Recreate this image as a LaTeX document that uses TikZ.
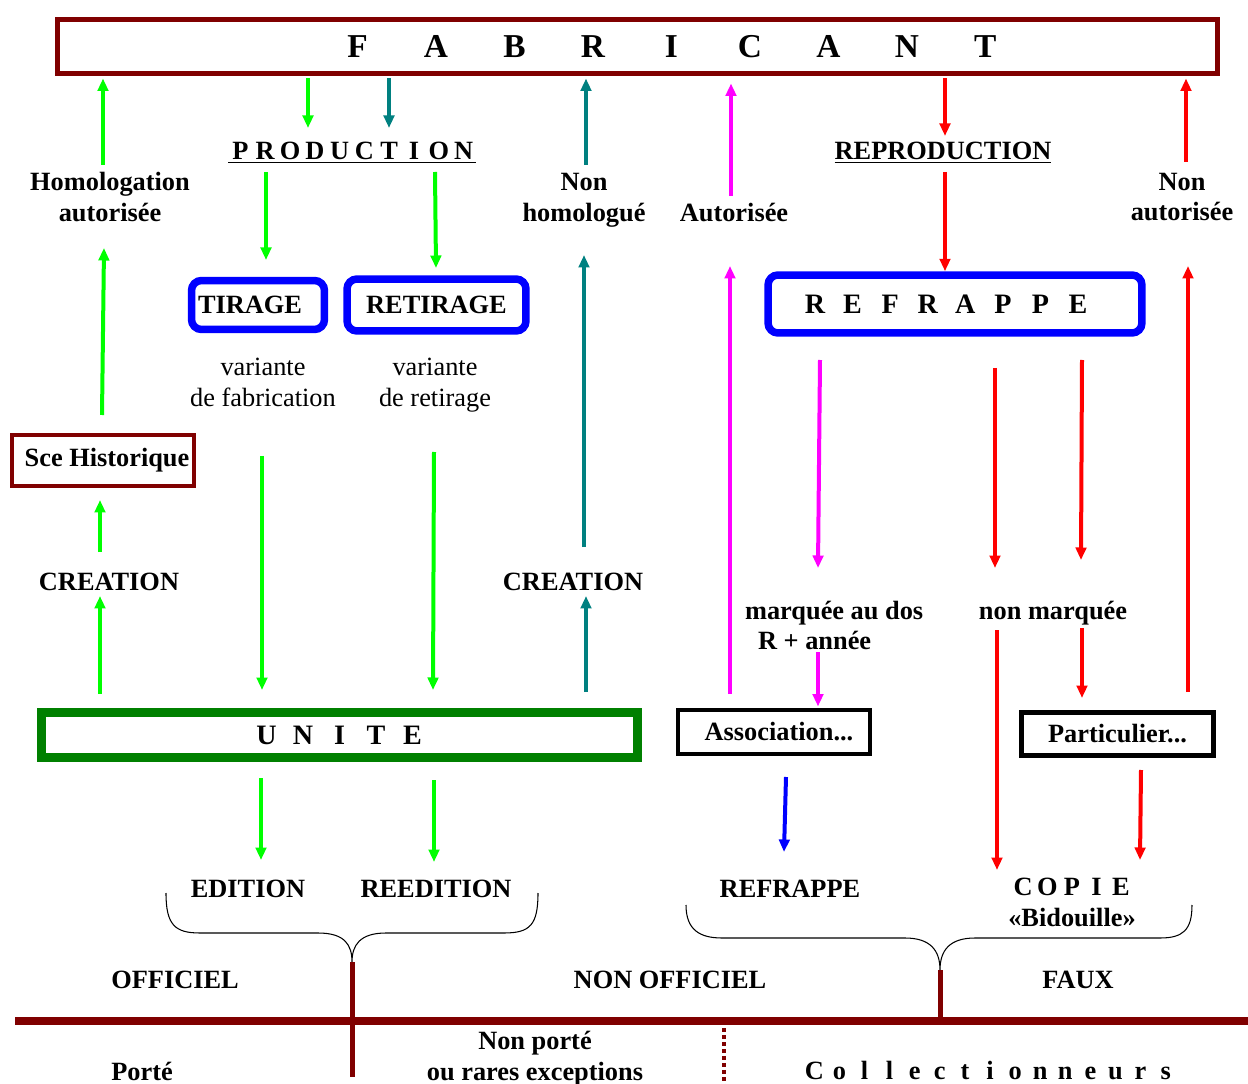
\documentclass[tikz,border=0pt]{standalone}
\usepackage{fontspec}
\setmainfont{Liberation Serif}
\usetikzlibrary{arrows.meta,positioning}
\definecolor{fdred}{HTML}{800000}
\definecolor{fgreen}{HTML}{00FF00}
\definecolor{fdgreen}{HTML}{008000}
\definecolor{fteal}{HTML}{008080}
\definecolor{fmag}{HTML}{FF00FF}
\definecolor{fred}{HTML}{FF0000}
\definecolor{fblue}{HTML}{0000FF}
\newcommand{\spread}[2]{\foreach \lettr in {#2}{\makebox[#1]{\lettr}}}

\begin{document}
\begin{tikzpicture}[x=0.02cm, y=-0.02cm,
    every node/.style={inner sep=1pt, align=center},
    lbl/.style={font=\bfseries\fontsize{15}{17.6}\selectfont},
    txt/.style={font=\fontsize{15}{17.6}\selectfont},
    big/.style={font=\bfseries\fontsize{16}{19}\selectfont},
    bluebox/.style={draw=fblue, line width=1.5mm, rounded corners=0.2cm},
    arr/.style={line width=0.8mm, -{Triangle[length=2.5mm, width=2.1mm]}},
    garr/.style={arr, fgreen},
    tarr/.style={arr, fteal},
    marr/.style={arr, fmag},
    rarr/.style={arr, fred},
    barr/.style={arr, fblue}]
  \useasboundingbox (0,0) rectangle (1248,1084);

  % boxes
  \node[draw=fdred, line width=1mm, minimum width=23.2cm, minimum height=1.08cm,
        font=\bfseries\fontsize{19}{22}\selectfont] (fab) at (637.5,46.5)
        {\hspace{1.36cm}\spread{1.57cm}{F,A,B,R,I,C,A,N,T}};
  \node[draw=fdred, line width=0.8mm, minimum width=3.64cm, minimum height=1.02cm,
        lbl] (sce) at (103,460.5) {\hspace{0.16cm}Sce Historique};
  \node[draw=fdgreen, line width=1.8mm, minimum width=11.92cm, minimum height=0.9cm,
        big] (unite) at (339.5,735) {\spread{0.73cm}{U,N,I,T,E}};
  \node[bluebox, minimum width=2.66cm, minimum height=0.98cm, lbl] (tir)
        at (258,305) {TIRAGE\hspace{0.32cm}};
  \node[bluebox, minimum width=3.58cm, minimum height=1.04cm, lbl] (retir)
        at (436.5,305) {RETIRAGE};
  \node[bluebox, minimum width=7.48cm, minimum height=1.16cm, big] (refr)
        at (955,304) {\spread{0.752cm}{R,E,F,R,A,P,P,E}\hspace{0.34cm}};
  \node[draw, line width=0.8mm, minimum width=3.84cm, minimum height=0.88cm, lbl]
        (assoc) at (774,732) {\hspace{0.2cm}Association...};
  \node[draw, line width=1mm, minimum width=3.84cm, minimum height=0.86cm, lbl]
        (part) at (1117.5,734) {Particulier...};

  % labels
  \node[lbl] (homol) at (110,197) {Homologation\\autorisée};
  \node[lbl] (creaA) at (109,581.5) {CREATION};
  \node[lbl] (prod) at (352,153) {\underline{\spread{0.496cm}{P,R,O,D,U,C,T,I,O,N}}};
  \node[lbl] (reprod) at (943,153) {\underline{REPRODUCTION}};
  \node[txt] (varA) at (263,382) {variante\\de fabrication};
  \node[txt] (varB) at (435,385) {variante\\de retirage};
  \node[lbl] (nonhom) at (584,200.5) {Non\\homologué};
  \node[lbl] (creaB) at (573,581.5) {CREATION};
  \node[lbl] (autor) at (734,213) {Autorisée};
  \node[lbl] (nonaut) at (1182,197) {Non\\autorisée};
  \node[lbl, align=left, anchor=west] (marq) at (743,625.5)
        {marquée au dos\\\hspace{0.26cm}R + année};
  \node[lbl] (nonmarq) at (1053,613) {non marquée};
  \node[lbl] (edit) at (248,888.5) {EDITION};
  \node[lbl] (reedit) at (436,888.5) {REEDITION};
  \node[lbl] (refrp) at (790,888.5) {REFRAPPE};
  \node[lbl] (copie) at (1072,902)
        {\spread{0.49cm}{C,O,P,I,E}\\«Bidouille»};
  \node[lbl] (offic) at (175,979.5) {OFFICIEL};
  \node[lbl] (nonoff) at (670,979.5) {NON OFFICIEL};
  \node[lbl] (faux) at (1078,979.5) {FAUX};
  \node[lbl] (porte) at (142,1071) {Porté};
  \node[lbl] (nonporte) at (535,1059) {Non porté\\ou rares exceptions};
  \node[lbl] (coll) at (990,1071)
        {\spread{0.502cm}{C,o,l,l,e,c,t,i,o,n,n,e,u,r,s}};

  % arrows to and from the maker
  \coordinate (homup) at (103,165);
  \coordinate (prodg) at (308,128);
  \coordinate (prodt) at (389,128);
  \coordinate (nhup) at (586,165);
  \coordinate (autup) at (731,196);
  \coordinate (repdn) at (945,136);
  \coordinate (naup) at (1186,162);
  \draw[garr, shorten >=0.5mm] (homup) -- (homup |- fab.south);
  \draw[garr, shorten <=0.5mm] (prodg |- fab.south) -- (prodg);
  \draw[tarr, shorten <=0.5mm] (prodt |- fab.south) -- (prodt);
  \draw[tarr, shorten >=0.5mm] (nhup) -- (nhup |- fab.south);
  \draw[marr, shorten >=1.5mm] (autup) -- (autup |- fab.south);
  \draw[rarr, shorten <=0.5mm] (repdn |- fab.south) -- (repdn);
  \draw[rarr, shorten >=0.5mm] (naup) -- (naup |- fab.south);

  % left column
  \coordinate (hs1) at (102,415); \coordinate (hs2) at (104,248);
  \coordinate (cs1) at (100,552); \coordinate (cs2) at (100,500);
  \coordinate (uc1) at (100,694); \coordinate (uc2) at (100,596);
  \draw[garr] (hs1) -- (hs2);
  \draw[garr] (cs1) -- (cs2);
  \draw[garr] (uc1) -- (uc2);

  % production
  \coordinate (pt1) at (266,172); \coordinate (pt2) at (266,260);
  \coordinate (pr1) at (435,172); \coordinate (pr2) at (436,268);
  \coordinate (vt1) at (262,456); \coordinate (vt2) at (262,690);
  \coordinate (vr1) at (434,452); \coordinate (vr2) at (433,690);
  \coordinate (ue1) at (261,778); \coordinate (ue2) at (261,860);
  \coordinate (ur1) at (434,780); \coordinate (ur2) at (434,862);
  \draw[garr] (pt1) -- (pt2);
  \draw[garr] (pr1) -- (pr2);
  \draw[garr] (vt1) -- (vt2);
  \draw[garr] (vr1) -- (vr2);
  \draw[garr] (ue1) -- (ue2);
  \draw[garr] (ur1) -- (ur2);

  % non homologue
  \coordinate (nh1) at (584,547); \coordinate (nh2) at (584,255);
  \coordinate (uc3) at (586,692); \coordinate (uc4) at (586,596);
  \draw[tarr] (nh1) -- (nh2);
  \draw[tarr] (uc3) -- (uc4);

  % reproduction
  \coordinate (au1) at (730,694); \coordinate (au2) at (730,266);
  \coordinate (rp1) at (945,172);
  \coordinate (mq1) at (820,360); \coordinate (mq2) at (818,568);
  \coordinate (mq3) at (818,652);
  \coordinate (nm1) at (995,368); \coordinate (nm2) at (995,568);
  \coordinate (nm3) at (1082,360); \coordinate (nm4) at (1081,560);
  \coordinate (nm5) at (1082,628); \coordinate (nm6) at (1082,698);
  \coordinate (cp1) at (997,630); \coordinate (cp2) at (997,870);
  \coordinate (pa1) at (1141,770); \coordinate (pa2) at (1140,860);
  \coordinate (na1) at (1188,692); \coordinate (na2) at (1188,266);
  \coordinate (as1) at (786,777); \coordinate (as2) at (784,852);
  \draw[marr] (au1) -- (au2);
  \draw[rarr] (rp1) -- (rp1 |- refr.north);
  \draw[marr] (mq1) -- (mq2);
  \draw[marr, shorten >=0.3mm] (mq3) -- (mq3 |- assoc.north);
  \draw[rarr] (nm1) -- (nm2);
  \draw[rarr] (nm3) -- (nm4);
  \draw[rarr] (nm5) -- (nm6);
  \draw[rarr] (cp1) -- (cp2);
  \draw[rarr] (pa1) -- (pa2);
  \draw[rarr] (na1) -- (na2);
  \draw[barr] (as1) -- (as2);

  % braces
  \coordinate (tipL) at (352,962);
  \coordinate (tipR) at (940,970);
  \draw[line width=0.6pt] (166,893) .. controls (166,925) and (175,933) .. (200,933)
    -- (318,933) .. controls (345,933) and (352,945) .. (tipL)
    .. controls (352,945) and (360,933) .. (386,933)
    -- (504,933) .. controls (530,933) and (538,925) .. (538,893);
  \draw[line width=0.6pt] (686,905) .. controls (686,930) and (700,938) .. (722,938)
    -- (905,938) .. controls (930,938) and (940,950) .. (tipR)
    .. controls (940,950) and (950,938) .. (975,938)
    -- (1160,938) .. controls (1183,938) and (1192,930) .. (1192,905);

  % axis
  \coordinate (axL) at (15,1021);
  \coordinate (axR) at (1248,1021);
  \coordinate (sep) at (724,1028);
  \draw[fdred, line width=1.6mm] (axL) -- (axR);
  \draw[fdred, line width=1mm] (tipL) -- ++(0,115);
  \draw[fdred, line width=1mm] (tipR) -- (tipR |- axL);
  \draw[fdred, line width=0.8mm, dash pattern=on 0.8mm off 0.6mm] (sep) -- ++(0,56);
\end{tikzpicture}
\end{document}
